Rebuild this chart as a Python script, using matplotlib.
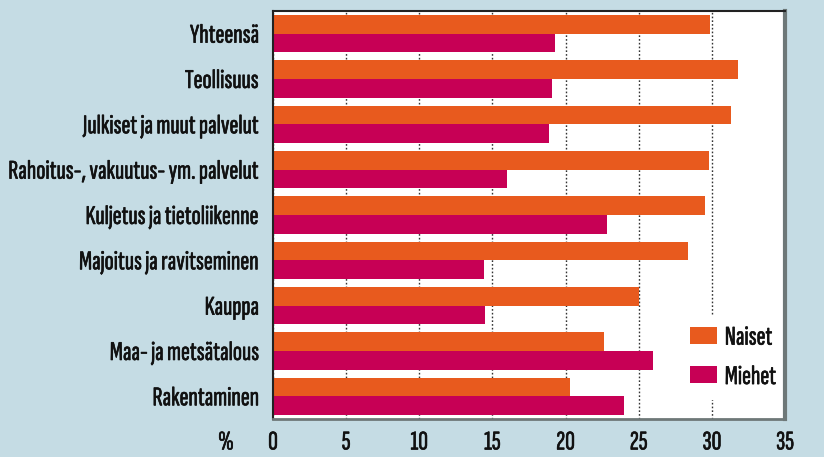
import matplotlib
matplotlib.use("Agg")
import matplotlib.pyplot as plt
import matplotlib.patheffects as pe
import numpy as np

categories = ["Yhteensä", "Teollisuus", "Julkiset ja muut palvelut",
              "Rahoitus-, vakuutus- ym. palvelut", "Kuljetus ja tietoliikenne",
              "Majoitus ja ravitseminen", "Kauppa", "Maa- ja metsätalous",
              "Rakentaminen"]
naiset = [29.9, 31.8, 31.3, 29.8, 29.5, 28.4, 25.0, 22.6, 20.3]
miehet = [19.3, 19.1, 18.9, 16.0, 22.8, 14.4, 14.5, 26.0, 24.0]
xticks = [0, 5, 10, 15, 20, 25, 30, 35]
series_labels = ["Naiset", "Miehet"]

bg = "#C5DCE4"
c_n = "#E85A1E"
c_m = "#C70055"
txt = "#111111"
fam = ["Sofia Sans Extra Condensed", "Sofia Sans Condensed", "Liberation Sans", "DejaVu Sans"]
plt.rcParams["font.family"] = fam
fs = 19.5
bold = [pe.withStroke(linewidth=0.45, foreground=txt)]

fig = plt.figure(figsize=(8.24, 4.57), dpi=100, facecolor=bg)
ax = fig.add_axes([273/824, 38/457, 512/824, 408/457])
ax.set_facecolor("white")

y = np.arange(len(categories))
h = 0.41
ax.barh(y - h/2, naiset, height=h, color=c_n, label=series_labels[0], zorder=2)
ax.barh(y + h/2, miehet, height=h, color=c_m, label=series_labels[1], zorder=2)

ax.set_ylim(len(categories) - 0.5, -0.5)
ax.set_xlim(0, 35)
ax.set_xticks(xticks)
ax.set_xticklabels([str(t) for t in xticks], fontsize=fs)
ax.set_yticks(y)
ax.set_yticklabels(categories, fontsize=fs)
ax.tick_params(axis="both", length=0, colors=txt)
ax.tick_params(axis="x", pad=9)
ax.tick_params(axis="y", pad=10)
for lab in ax.get_xticklabels() + ax.get_yticklabels():
    lab.set_path_effects(bold)
ax.grid(axis="x", linestyle=(0, (1.2, 1.5)), color="#333333", linewidth=1.0, zorder=1)
ax.set_axisbelow(True)

ax.spines["left"].set_color("#222222")
ax.spines["left"].set_linewidth(1.5)
ax.spines["top"].set_color("#222222")
ax.spines["top"].set_linewidth(1.5)
ax.spines["right"].set_color("#6E7878")
ax.spines["right"].set_linewidth(3)
ax.spines["bottom"].set_color("#6E7878")
ax.spines["bottom"].set_linewidth(2)

leg = ax.legend(loc="center right", bbox_to_anchor=(1.004, 0.15), frameon=True,
                facecolor="white", edgecolor="white", framealpha=1,
                fontsize=fs, handlelength=1.0, handleheight=0.6,
                labelspacing=0.6, borderaxespad=0, borderpad=0.4, handletextpad=0.3)
leg.get_frame().set_linewidth(0)
leg.get_frame().set_boxstyle("square", pad=0)
leg.set_zorder(1.5)
for t in leg.get_texts():
    t.set_color(txt)
    t.set_path_effects(bold)

fig.text(226/824, 1 - 443/457, "%", fontsize=fs, ha="center", va="center", color=txt,
         path_effects=bold)

fig.savefig("out.png", dpi=100, facecolor=bg)
